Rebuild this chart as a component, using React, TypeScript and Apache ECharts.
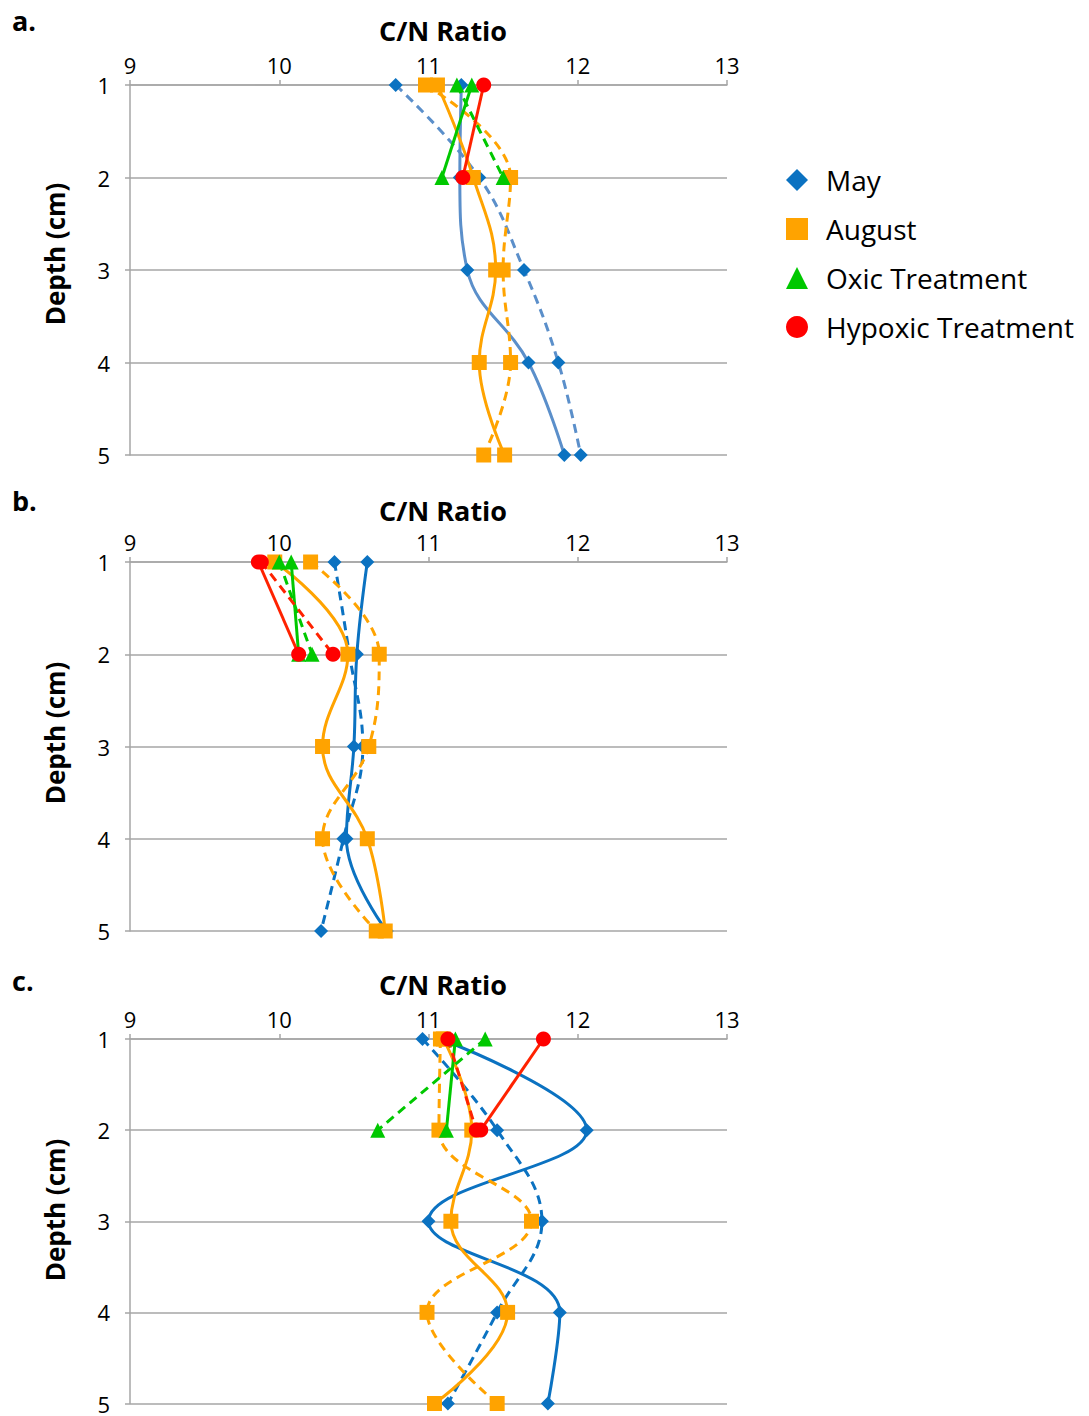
import React, { useEffect, useRef } from "react";
import * as echarts from "echarts";

const depths = [1, 2, 3, 4, 5];
const xTicks = [9, 10, 11, 12, 13];
const panelLetters = ["a.", "b.", "c."];
const legendNames = ["May", "August", "Oxic Treatment", "Hypoxic Treatment"];

// Panel a
const mayA_solid = [11.22, 11.21, 11.26, 11.67, 11.91];
const mayA_dashed = [10.78, 11.34, 11.64, 11.87, 12.02];
const augA_solid = [11.06, 11.3, 11.45, 11.34, 11.51];
const augA_dashed = [10.98, 11.55, 11.5, 11.55, 11.37];
const oxicA_solid = [11.29, 11.09];
const oxicA_dashed = [11.19, 11.5];
const hypA_solid = [11.37, 11.23];

// Panel b
const mayB_solid = [10.59, 10.52, 10.5, 10.45, 10.72];
const mayB_dashed = [10.37, 10.47, 10.56, 10.43, 10.28];
const augB_solid = [9.97, 10.46, 10.29, 10.59, 10.71];
const augB_dashed = [10.21, 10.67, 10.6, 10.29, 10.65];
const oxicB_solid = [10.08, 10.13];
const oxicB_dashed = [10.0, 10.22];
const hypB_solid = [9.86, 10.13];
const hypB_dashed = [9.88, 10.36];

// Panel c
const mayC_solid = [11.08, 12.06, 11.0, 11.88, 11.8];
const mayC_dashed = [10.96, 11.46, 11.76, 11.46, 11.13];
const augC_solid = [11.1, 11.29, 11.15, 11.53, 11.04];
const augC_dashed = [11.08, 11.07, 11.69, 10.99, 11.46];
const oxicC_solid = [11.18, 11.12];
const oxicC_dashed = [11.38, 10.66];
const hypC_solid = [11.77, 11.35];
const hypC_dashed = [11.13, 11.32];

const FONT = "Open Sans";
const BLUE = "#0B72C1";
const BLUE_A = "#5B8FCA";
const ORANGE = "#FFA300";
const GREEN = "#00C800";
const RED = "#FF2200";
const RED_M = "#FF0000";
const GRID_C = "#A6A6A6";

const panels = [
  { top: 85, bottom: 455, title: 30, letter: 20, depth: 254, labPad: 6 },
  { top: 562, bottom: 931, title: 510, letter: 500, depth: 733, labPad: 6 },
  { top: 1039, bottom: 1408, title: 984, letter: 980, depth: 1210, labPad: 9 },
];

type Spec = { name: string; vals: number[]; line: string; marker: string; symbol: string; size: number; dashed: boolean };

function mk(s: Spec, gi: number) {
  return {
    type: "line",
    name: s.name,
    xAxisIndex: gi,
    yAxisIndex: gi,
    data: s.vals.map((v, i) => [v, depths[i]]),
    smooth: 0.4,
    symbol: s.symbol,
    symbolSize: s.size,
    showSymbol: true,
    itemStyle: { color: s.marker },
    lineStyle: { color: s.line, width: 3, type: s.dashed ? [9, 6] : "solid" },
    emphasis: { disabled: true },
  };
}

function panelSeries(gi: number, mayLine: string, d: any) {
  const list: Spec[] = [
    { name: "May", vals: d.mayS, line: mayLine, marker: BLUE, symbol: "diamond", size: 14, dashed: false },
    { name: "May", vals: d.mayD, line: mayLine, marker: BLUE, symbol: "diamond", size: 14, dashed: true },
    { name: "August", vals: d.augS, line: ORANGE, marker: ORANGE, symbol: "rect", size: 15, dashed: false },
    { name: "August", vals: d.augD, line: ORANGE, marker: ORANGE, symbol: "rect", size: 15, dashed: true },
    { name: "Oxic Treatment", vals: d.oxS, line: GREEN, marker: GREEN, symbol: "triangle", size: 15, dashed: false },
    { name: "Oxic Treatment", vals: d.oxD, line: GREEN, marker: GREEN, symbol: "triangle", size: 15, dashed: true },
    { name: "Hypoxic Treatment", vals: d.hyS, line: RED, marker: RED_M, symbol: "circle", size: 15, dashed: false },
  ];
  if (d.hyD) list.push({ name: "Hypoxic Treatment", vals: d.hyD, line: RED, marker: RED_M, symbol: "circle", size: 15, dashed: true });
  return list.map((s) => mk(s, gi));
}

export default function App() {
  const ref = useRef<HTMLDivElement>(null);
  useEffect(() => {
    if (!ref.current) return;
    const chart = echarts.init(ref.current, undefined, { renderer: "svg" });
    const grids = panels.map((p) => ({ left: 130, width: 597, top: p.top, height: p.bottom - p.top }));
    const xAxes = panels.map((_, i) => ({
      type: "value",
      gridIndex: i,
      position: "top",
      min: xTicks[0],
      max: xTicks[xTicks.length - 1],
      interval: 1,
      axisLine: { show: true, lineStyle: { color: GRID_C, width: 1.5 } },
      axisTick: { show: true, length: 5, lineStyle: { color: GRID_C, width: 1.5 } },
      axisLabel: { color: "#000", fontFamily: FONT, fontSize: 22, margin: 10, lineHeight: 20 },
      splitLine: { show: false },
    }));
    const yAxes = panels.map((p, i) => ({
      type: "value",
      gridIndex: i,
      inverse: true,
      min: 1,
      max: 5,
      interval: 1,
      axisLine: { show: true, onZero: false, lineStyle: { color: GRID_C, width: 1.5 } },
      axisTick: { show: true, length: 5, lineStyle: { color: GRID_C, width: 1.5 } },
      axisLabel: { color: "#000", fontFamily: FONT, fontSize: 22, margin: 20, lineHeight: 16, padding: [0, 0, p.labPad, 0] },
      splitLine: { show: true, lineStyle: { color: GRID_C, width: 1.5 } },
    }));
    const series = [
      ...panelSeries(0, BLUE_A, { mayS: mayA_solid, mayD: mayA_dashed, augS: augA_solid, augD: augA_dashed, oxS: oxicA_solid, oxD: oxicA_dashed, hyS: hypA_solid }),
      ...panelSeries(1, BLUE, { mayS: mayB_solid, mayD: mayB_dashed, augS: augB_solid, augD: augB_dashed, oxS: oxicB_solid, oxD: oxicB_dashed, hyS: hypB_solid, hyD: hypB_dashed }),
      ...panelSeries(2, BLUE, { mayS: mayC_solid, mayD: mayC_dashed, augS: augC_solid, augD: augC_dashed, oxS: oxicC_solid, oxD: oxicC_dashed, hyS: hypC_solid, hyD: hypC_dashed }),
    ];
    const graphics: any[] = [];
    panels.forEach((p, i) => {
      graphics.push({
        type: "text", x: 443, y: p.title,
        style: { text: "C/N Ratio", fontFamily: FONT, fontSize: 27, lineHeight: 24, fontWeight: "bold", fill: "#000", textAlign: "center", textVerticalAlign: "middle" },
      });
      graphics.push({
        type: "text", x: 12, y: p.letter,
        style: { text: panelLetters[i], fontFamily: FONT, fontSize: 27, fontWeight: "bold", fill: "#000", textAlign: "left", textVerticalAlign: "middle" },
      });
      graphics.push({
        type: "text", x: 55, y: p.depth, rotation: Math.PI / 2,
        style: { text: "Depth (cm)", fontFamily: FONT, fontSize: 26, fontWeight: "bold", fill: "#000", textAlign: "center", textVerticalAlign: "middle" },
      });
    });
    const legendIcons = ["diamond", "rect", "triangle", "circle"];
    const legendColors = [BLUE, ORANGE, GREEN, RED_M];
    chart.setOption({
      animation: false,
      backgroundColor: "#fff",
      grid: grids,
      xAxis: xAxes,
      yAxis: yAxes,
      series,
      legend: {
        orient: "vertical",
        left: 786,
        top: 166,
        padding: 0,
        itemWidth: 22,
        itemHeight: 22,
        itemGap: 21,
        selectedMode: false,
        textStyle: { fontFamily: FONT, fontSize: 28, color: "#000", lineHeight: 22, padding: [0, 0, 0, 13] },
        data: legendNames.map((n, i) => ({ name: n, icon: legendIcons[i], itemStyle: { color: legendColors[i] } })),
      },
      graphic: graphics,
    });
    return () => chart.dispose();
  }, []);
  return <div ref={ref} style={{ position: "absolute", left: 0, top: 0, width: 1089, height: 1416 }} />;
}
